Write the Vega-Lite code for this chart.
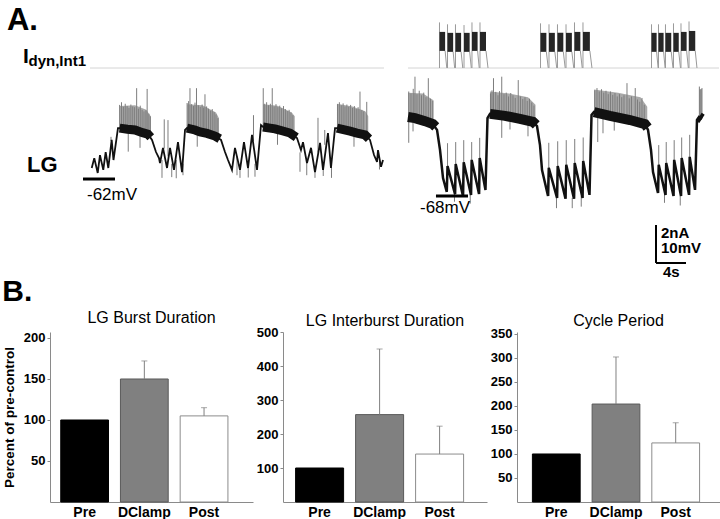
{
  "$schema": "https://vega.github.io/schema/vega-lite/v6.json",
  "background": "white",
  "padding": {"left": 2, "top": 5, "right": 0, "bottom": 0},
  "config": {"view": {"stroke": null}, "font": "Liberation Sans", "axis": {"labelOverlap": false, "labelBound": false}},
  "datasets": {
    "lgL": [
      {"t":0.23,"v":-59.1},{"t":0.57,"v":-56.5},{"t":1.03,"v":-60.4},{"t":1.33,"v":-55.7},{"t":1.77,"v":-59.6},{"t":2.09,"v":-54.9},{"t":2.44,"v":-59.1},{"t":2.89,"v":-51.7},{"t":3.13,"v":-57.0},{"t":3.73,"v":-48.6},
      {"t":4.0,"v":-48.6},{"t":4.6,"v":-49.3},{"t":5.3,"v":-48.8},{"t":6.0,"v":-49.1},{"t":6.8,"v":-49.9},{"t":7.73,"v":-50.2},{"t":8.27,"v":-51.7},{"t":8.8,"v":-54.9},{"t":9.2,"v":-56.5},
      {"t":9.33,"v":-57.8},{"t":9.73,"v":-53.8},{"t":10.27,"v":-59.1},{"t":10.67,"v":-53.8},{"t":11.2,"v":-59.6},{"t":11.73,"v":-52.3},{"t":12.27,"v":-60.2},{"t":12.67,"v":-49.1},
      {"t":12.93,"v":-48.6},{"t":13.8,"v":-49.0},{"t":14.67,"v":-49.6},{"t":15.6,"v":-50.0},{"t":16.67,"v":-50.7},{"t":17.47,"v":-51.7},{"t":18.0,"v":-54.9},{"t":18.4,"v":-57.0},
      {"t":18.93,"v":-59.6},{"t":19.33,"v":-53.8},{"t":20.0,"v":-59.6},{"t":20.53,"v":-52.3},{"t":21.07,"v":-59.1},{"t":21.6,"v":-50.4},{"t":22.27,"v":-59.6},{"t":22.8,"v":-47.8},
      {"t":23.07,"v":-48.3},{"t":23.9,"v":-48.6},{"t":24.67,"v":-48.8},{"t":25.6,"v":-49.3},{"t":26.67,"v":-49.9},{"t":27.6,"v":-51.2},{"t":28.13,"v":-54.4},
      {"t":28.4,"v":-52.3},{"t":28.93,"v":-57.8},{"t":29.47,"v":-53.8},{"t":30.0,"v":-60.2},{"t":30.67,"v":-52.5},{"t":31.07,"v":-59.6},{"t":31.73,"v":-49.9},{"t":32.13,"v":-59.1},{"t":32.67,"v":-48.6},
      {"t":32.93,"v":-48.6},{"t":33.8,"v":-49.0},{"t":34.67,"v":-49.4},{"t":35.6,"v":-49.9},{"t":36.67,"v":-50.4},{"t":37.33,"v":-51.7},{"t":37.87,"v":-55.7},{"t":38.27,"v":-57.5},{"t":38.4,"v":-54.4},{"t":38.8,"v":-58.8},{"t":39.07,"v":-57.0}
    ],
    "bandL": [
      {"b":1,"t":3.95,"v":-48.6},{"b":1,"t":5.0,"v":-48.9},{"b":1,"t":6.0,"v":-49.1},{"b":1,"t":7.0,"v":-49.8},{"b":1,"t":7.73,"v":-50.2},{"b":1,"t":8.1,"v":-51.0},
      {"b":2,"t":12.93,"v":-48.6},{"b":2,"t":14.0,"v":-49.1},{"b":2,"t":14.67,"v":-49.6},{"b":2,"t":15.6,"v":-50.0},{"b":2,"t":16.67,"v":-50.7},{"b":2,"t":17.3,"v":-51.4},
      {"b":3,"t":23.07,"v":-48.3},{"b":3,"t":24.0,"v":-48.6},{"b":3,"t":24.67,"v":-48.8},{"b":3,"t":25.6,"v":-49.3},{"b":3,"t":26.67,"v":-49.9},{"b":3,"t":27.5,"v":-51.0},
      {"b":4,"t":32.93,"v":-48.6},{"b":4,"t":33.8,"v":-49.0},{"b":4,"t":34.67,"v":-49.4},{"b":4,"t":35.6,"v":-49.9},{"b":4,"t":36.67,"v":-50.4},{"b":4,"t":37.2,"v":-51.4}
    ],
    "hazeL": [
      {"b":1,"t":3.95,"lo":-48.6,"hi":-42.8},{"b":1,"t":6.0,"lo":-49.1,"hi":-42.6},{"b":1,"t":7.5,"lo":-50.0,"hi":-43.8},{"b":1,"t":8.1,"lo":-51.0,"hi":-45.5},
      {"b":2,"t":12.95,"lo":-48.6,"hi":-42.3},{"b":2,"t":15.0,"lo":-50.0,"hi":-42.6},{"b":2,"t":16.8,"lo":-50.7,"hi":-44.5},{"b":2,"t":17.2,"lo":-51.3,"hi":-46.0},
      {"b":3,"t":23.07,"lo":-48.3,"hi":-42.3},{"b":3,"t":25.0,"lo":-49.1,"hi":-42.7},{"b":3,"t":26.9,"lo":-50.0,"hi":-44.5},{"b":3,"t":27.3,"lo":-50.8,"hi":-45.5},
      {"b":4,"t":32.93,"lo":-48.6,"hi":-42.2},{"b":4,"t":35.0,"lo":-49.7,"hi":-42.9},{"b":4,"t":36.7,"lo":-50.4,"hi":-44.2},{"b":4,"t":37.1,"lo":-51.2,"hi":-45.5}
    ],
    "spkL": [
      {"t":3.95,"a":-49,"b":-42.5},{"t":4.2,"a":-49,"b":-41.8},{"t":4.45,"a":-49,"b":-43},{"t":4.7,"a":-49,"b":-42.2},{"t":4.95,"a":-49,"b":-42.8},{"t":5.2,"a":-49,"b":-43.3},{"t":5.45,"a":-49,"b":-42.4},{"t":5.7,"a":-49,"b":-42.9},{"t":5.95,"a":-49,"b":-43.1},{"t":6.22,"a":-49,"b":-38.1},{"t":6.45,"a":-49,"b":-43.5},{"t":6.7,"a":-49,"b":-42.7},{"t":6.95,"a":-49,"b":-43.8},{"t":7.2,"a":-50,"b":-44.2},{"t":7.45,"a":-50,"b":-43.9},{"t":7.62,"a":-50,"b":-38.3},{"t":7.85,"a":-50,"b":-44.8},{"t":8.05,"a":-50,"b":-45.5},
      {"t":12.95,"a":-49.5,"b":-42},{"t":13.15,"a":-49.5,"b":-41.5},{"t":13.33,"a":-49.5,"b":-38.1},{"t":13.55,"a":-49.5,"b":-42.3},{"t":13.8,"a":-49.5,"b":-42.8},{"t":14.0,"a":-49.5,"b":-41.9},{"t":14.2,"a":-49.5,"b":-38.1},{"t":14.45,"a":-49.5,"b":-42.6},{"t":14.7,"a":-49.5,"b":-43},{"t":14.95,"a":-49.5,"b":-42.4},{"t":15.15,"a":-50,"b":-43.2},{"t":15.33,"a":-50,"b":-39.7},{"t":15.55,"a":-50,"b":-42.9},{"t":15.8,"a":-50,"b":-43.5},{"t":16.05,"a":-50,"b":-44},{"t":16.3,"a":-50.5,"b":-43.6},{"t":16.55,"a":-50.5,"b":-44.4},{"t":16.8,"a":-50.5,"b":-45},{"t":17.05,"a":-51,"b":-46},
      {"t":23.1,"a":-48.5,"b":-38.1},{"t":23.3,"a":-48.5,"b":-42.2},{"t":23.55,"a":-48.5,"b":-41.8},{"t":23.8,"a":-48.5,"b":-42.6},{"t":24.05,"a":-48.5,"b":-42.2},{"t":24.3,"a":-48.5,"b":-38.1},{"t":24.55,"a":-49,"b":-42.9},{"t":24.8,"a":-49,"b":-42.3},{"t":25.05,"a":-49,"b":-43.1},{"t":25.3,"a":-49,"b":-42.7},{"t":25.55,"a":-49,"b":-43.4},{"t":25.8,"a":-49.5,"b":-42.8},{"t":26.05,"a":-49.5,"b":-43.6},{"t":26.3,"a":-49.5,"b":-44.1},{"t":26.55,"a":-50,"b":-43.8},{"t":26.8,"a":-50,"b":-44.5},{"t":27.05,"a":-50,"b":-45.2},
      {"t":33.0,"a":-48.8,"b":-42.3},{"t":33.25,"a":-48.8,"b":-41.8},{"t":33.5,"a":-48.8,"b":-42.6},{"t":33.75,"a":-49,"b":-42.1},{"t":34.0,"a":-49,"b":-42.9},{"t":34.25,"a":-49,"b":-42.4},{"t":34.5,"a":-49.4,"b":-43.0},{"t":34.75,"a":-49.4,"b":-42.5},{"t":35.0,"a":-49.6,"b":-43.3},{"t":35.25,"a":-49.6,"b":-42.8},{"t":35.5,"a":-49.8,"b":-43.6},{"t":35.75,"a":-50,"b":-43.1},{"t":36.0,"a":-50,"b":-39.0},{"t":36.25,"a":-50.2,"b":-43.8},{"t":36.5,"a":-50.4,"b":-44.2},{"t":36.9,"a":-50.8,"b":-41.7},
      {"t":2.8,"a":-52,"b":-50.9},{"t":5.1,"a":-49,"b":-54.8},{"t":6.67,"a":-49.5,"b":-53.8},{"t":9.6,"a":-57,"b":-61.7},{"t":9.9,"a":-54,"b":-46.3},{"t":10.4,"a":-56,"b":-46.5},{"t":10.9,"a":-58,"b":-61.5},{"t":11.5,"a":-57,"b":-61.8},{"t":12.4,"a":-58,"b":-61.0},
      {"t":14.3,"a":-49.5,"b":-53.5},{"t":19.6,"a":-56,"b":-61.0},{"t":20.0,"a":-58,"b":-61.7},{"t":21.1,"a":-58,"b":-61.6},{"t":21.8,"a":-52,"b":-45.2},{"t":22.0,"a":-58,"b":-61.4},
      {"t":25.0,"a":-49,"b":-53.0},{"t":28.0,"a":-55,"b":-60.1},{"t":28.9,"a":-57,"b":-61.0},{"t":30.0,"a":-59,"b":-61.7},{"t":30.4,"a":-55,"b":-45.9},{"t":31.1,"a":-58,"b":-61.2},{"t":31.3,"a":-53,"b":-49.1},{"t":32.2,"a":-58,"b":-61.7},{"t":35.2,"a":-49.6,"b":-53.5},{"t":38.6,"a":-56,"b":-59.5}
    ],
    "lgR": [
      {"t":0,"v":-47.2},{"t":0.93,"v":-47.5},{"t":2.27,"v":-48.3},{"t":3.33,"v":-49.1},{"t":3.87,"v":-50.6},{"t":4.27,"v":-55.9},{"t":4.67,"v":-63.3},{"t":5.17,"v":-66.9},
      {"t":5.27,"v":-60.1},{"t":6.27,"v":-67.5},{"t":6.36,"v":-59.6},{"t":7.33,"v":-68.0},{"t":7.43,"v":-59.1},{"t":8.4,"v":-67.7},{"t":8.49,"v":-58.5},{"t":9.47,"v":-67.5},{"t":9.56,"v":-58.0},{"t":10.33,"v":-66.4},{"t":10.6,"v":-47.5},
      {"t":10.93,"v":-46.4},{"t":12.93,"v":-46.9},{"t":14.93,"v":-47.7},{"t":16.67,"v":-48.5},{"t":17.2,"v":-49.6},{"t":17.6,"v":-54.6},{"t":17.87,"v":-61.2},
      {"t":18.67,"v":-68.0},{"t":18.77,"v":-60.6},{"t":19.87,"v":-68.5},{"t":19.96,"v":-60.1},{"t":21.0,"v":-68.7},{"t":21.1,"v":-59.8},{"t":22.13,"v":-68.7},{"t":22.23,"v":-59.3},{"t":23.27,"v":-68.5},{"t":23.36,"v":-58.8},{"t":24.2,"v":-67.7},{"t":24.47,"v":-46.7},
      {"t":24.8,"v":-45.9},{"t":26.93,"v":-46.9},{"t":29.6,"v":-48.0},{"t":31.6,"v":-49.1},{"t":32.0,"v":-50.6},{"t":32.4,"v":-55.9},{"t":32.67,"v":-61.7},
      {"t":33.33,"v":-67.2},{"t":33.43,"v":-59.8},{"t":34.33,"v":-67.7},{"t":34.43,"v":-59.3},{"t":35.4,"v":-68.0},{"t":35.49,"v":-58.5},{"t":36.4,"v":-68.0},{"t":36.49,"v":-58.0},{"t":37.47,"v":-67.7},{"t":37.56,"v":-57.7},{"t":38.27,"v":-66.4},{"t":38.53,"v":-48.0},
      {"t":38.8,"v":-47.2},{"t":39.2,"v":-47.7}
    ],
    "bandR": [
      {"b":0,"t":0,"v":-47.2},{"b":0,"t":0.93,"v":-47.5},{"b":0,"t":2.27,"v":-48.3},{"b":0,"t":3.33,"v":-49.1},{"b":0,"t":3.7,"v":-49.8},
      {"b":1,"t":10.93,"v":-46.4},{"b":1,"t":12.93,"v":-46.9},{"b":1,"t":14.93,"v":-47.7},{"b":1,"t":16.67,"v":-48.5},{"b":1,"t":17.1,"v":-49.3},
      {"b":2,"t":24.8,"v":-45.9},{"b":2,"t":26.93,"v":-46.9},{"b":2,"t":29.6,"v":-48.0},{"b":2,"t":31.6,"v":-49.1},{"b":2,"t":31.95,"v":-50.0},
      {"b":3,"t":38.8,"v":-47.2},{"b":3,"t":39.2,"v":-47.7}
    ],
    "hazeR": [
      {"b":0,"t":0,"lo":-47.2,"hi":-40.8},{"b":0,"t":2.0,"lo":-48.2,"hi":-41.0},{"b":0,"t":3.4,"lo":-49.1,"hi":-42.8},
      {"b":1,"t":10.93,"lo":-46.4,"hi":-40.5},{"b":1,"t":13.5,"lo":-47.2,"hi":-41.0},{"b":1,"t":16.0,"lo":-48.3,"hi":-42.0},{"b":1,"t":17.0,"lo":-49.2,"hi":-44.0},
      {"b":2,"t":24.8,"lo":-45.9,"hi":-40.0},{"b":2,"t":28.0,"lo":-47.3,"hi":-40.8},{"b":2,"t":31.0,"lo":-48.8,"hi":-42.0},{"b":2,"t":31.9,"lo":-49.9,"hi":-44.5},
      {"b":3,"t":38.8,"lo":-47.2,"hi":-40.0},{"b":3,"t":39.2,"lo":-47.7,"hi":-39.8}
    ],
    "spkR": [
      {"t":0.1,"a":-48,"b":-40.5},{"t":0.4,"a":-48,"b":-41},{"t":0.7,"a":-48,"b":-39.8},{"t":0.93,"a":-48,"b":-36.6},{"t":1.2,"a":-48,"b":-41.2},{"t":1.5,"a":-48,"b":-40.3},{"t":1.8,"a":-48.5,"b":-41.5},{"t":2.1,"a":-48.5,"b":-40.8},{"t":2.4,"a":-48.5,"b":-42},{"t":2.71,"a":-49,"b":-37.0},{"t":3.0,"a":-49,"b":-42.4},{"t":3.3,"a":-49,"b":-43},
      {"t":0.1,"a":-48,"b":-54},{"t":0.67,"a":-48,"b":-51},
      {"t":11.0,"a":-47,"b":-41},{"t":11.2,"a":-47,"b":-40.2},{"t":11.4,"a":-47,"b":-37.0},{"t":11.7,"a":-47,"b":-40.6},{"t":12.0,"a":-47,"b":-41.5},{"t":12.2,"a":-47,"b":-40.4},{"t":12.5,"a":-47,"b":-36.6},{"t":12.8,"a":-47,"b":-41.2},{"t":13.1,"a":-47.5,"b":-40.8},{"t":13.4,"a":-47.5,"b":-41.8},{"t":13.7,"a":-47.5,"b":-40.9},{"t":14.0,"a":-47.5,"b":-41.5},{"t":14.3,"a":-47.5,"b":-42.2},{"t":14.7,"a":-48,"b":-37.5},{"t":15.0,"a":-48,"b":-41.8},{"t":15.3,"a":-48,"b":-42.5},{"t":15.6,"a":-48,"b":-42.0},{"t":15.9,"a":-48.5,"b":-43.0},{"t":16.2,"a":-48.5,"b":-42.4},{"t":16.5,"a":-48.5,"b":-43.4},{"t":16.8,"a":-49,"b":-44.2},
      {"t":12.5,"a":-47,"b":-52.7},{"t":16.0,"a":-48,"b":-52.3},{"t":13.6,"a":-47,"b":-50.5},
      {"t":24.9,"a":-46.5,"b":-40.2},{"t":25.2,"a":-46.5,"b":-39.6},{"t":25.5,"a":-46.5,"b":-40.5},{"t":25.8,"a":-46.5,"b":-39.9},{"t":26.1,"a":-46.5,"b":-40.8},{"t":26.4,"a":-47,"b":-40.3},{"t":26.7,"a":-47,"b":-41.2},{"t":27.0,"a":-47,"b":-40.5},{"t":27.3,"a":-47,"b":-41.4},{"t":27.6,"a":-47.5,"b":-40.9},{"t":27.9,"a":-47.5,"b":-41.8},{"t":28.2,"a":-47.5,"b":-41.2},{"t":28.5,"a":-47.5,"b":-42.0},{"t":28.8,"a":-48,"b":-41.5},{"t":29.2,"a":-48,"b":-38.3},{"t":29.5,"a":-48,"b":-42.3},{"t":29.8,"a":-48,"b":-41.8},{"t":30.3,"a":-48.5,"b":-39.6},{"t":30.6,"a":-48.5,"b":-42.6},{"t":30.9,"a":-48.5,"b":-43.2},{"t":31.2,"a":-49,"b":-42.2},{"t":31.5,"a":-49,"b":-44.0},
      {"t":25.3,"a":-47,"b":-53.8},{"t":26.0,"a":-47,"b":-51.5},{"t":27.5,"a":-48,"b":-50.8},
      {"t":38.85,"a":-47.5,"b":-39.2},{"t":39.05,"a":-47.5,"b":-40.0},{"t":39.2,"a":-47.5,"b":-39.6},
      {"t":5.27,"a":-66.9,"b":-54.1},{"t":6.36,"a":-67.5,"b":-53.8},{"t":7.43,"a":-68,"b":-53.3},{"t":8.49,"a":-67.7,"b":-53.8},{"t":9.56,"a":-67.5,"b":-52.7},
      {"t":18.77,"a":-68,"b":-54.0},{"t":19.96,"a":-68.5,"b":-53.6},{"t":21.1,"a":-68.7,"b":-53.3},{"t":22.23,"a":-68.7,"b":-53.0},{"t":23.36,"a":-68.5,"b":-52.6},
      {"t":33.43,"a":-67.2,"b":-54.6},{"t":34.43,"a":-67.7,"b":-53.8},{"t":35.49,"a":-68,"b":-53.3},{"t":36.49,"a":-68,"b":-52.6},{"t":37.56,"a":-67.7,"b":-51.9},
      {"t":6.2,"a":-67,"b":-69.5},{"t":8.3,"a":-67.5,"b":-70},{"t":19.8,"a":-68,"b":-71.2},{"t":21.9,"a":-68.5,"b":-71.2},{"t":23.1,"a":-68,"b":-70.8},{"t":34.2,"a":-67.5,"b":-69.8},{"t":36.3,"a":-68,"b":-70.5}
    ],
    "pulses": [
      {"t0":4.2,"t1":4.95,"te":5.17,"z":0,"pk":2.4,"hi":1.9,"lo":0.9},{"t0":5.27,"t1":6.02,"te":6.22,"z":0,"pk":2.3,"hi":1.85,"lo":0.85},{"t0":6.33,"t1":7.08,"te":7.3,"z":0,"pk":2.3,"hi":1.85,"lo":0.85},{"t0":7.47,"t1":8.22,"te":8.44,"z":0,"pk":2.26,"hi":1.85,"lo":0.85},{"t0":8.53,"t1":9.28,"te":9.5,"z":0,"pk":2.4,"hi":1.9,"lo":0.9},{"t0":9.6,"t1":10.4,"te":10.67,"z":0,"pk":2.4,"hi":1.9,"lo":0.9},
      {"t0":17.67,"t1":18.45,"te":18.7,"z":0,"pk":2.35,"hi":1.85,"lo":0.85},{"t0":18.8,"t1":19.58,"te":19.83,"z":0,"pk":2.3,"hi":1.85,"lo":0.85},{"t0":19.93,"t1":20.71,"te":20.96,"z":0,"pk":2.3,"hi":1.85,"lo":0.85},{"t0":21.07,"t1":21.85,"te":22.1,"z":0,"pk":2.3,"hi":1.85,"lo":0.85},{"t0":22.2,"t1":22.98,"te":23.23,"z":0,"pk":2.4,"hi":1.9,"lo":0.9},{"t0":23.33,"t1":24.25,"te":24.53,"z":0,"pk":2.4,"hi":1.9,"lo":0.9},
      {"t0":32.47,"t1":33.15,"te":33.35,"z":0,"pk":2.3,"hi":1.85,"lo":0.85},{"t0":33.4,"t1":34.08,"te":34.28,"z":0,"pk":2.3,"hi":1.85,"lo":0.85},{"t0":34.33,"t1":35.1,"te":35.33,"z":0,"pk":2.3,"hi":1.85,"lo":0.85},{"t0":35.4,"t1":36.1,"te":36.33,"z":0,"pk":2.35,"hi":1.85,"lo":0.85},{"t0":36.4,"t1":37.15,"te":37.38,"z":0,"pk":2.35,"hi":1.9,"lo":0.9},{"t0":37.47,"t1":38.3,"te":38.53,"z":0,"pk":2.45,"hi":1.95,"lo":0.9}
    ],
    "bars": [
      {"m":"burst","c":"Pre","v":100,"hi":null},{"m":"burst","c":"DClamp","v":150,"hi":172},{"m":"burst","c":"Post","v":105,"hi":115},
      {"m":"inter","c":"Pre","v":100,"hi":null},{"m":"inter","c":"DClamp","v":257,"hi":450},{"m":"inter","c":"Post","v":141,"hi":223},
      {"m":"cycle","c":"Pre","v":100,"hi":null},{"m":"cycle","c":"DClamp","v":204,"hi":302},{"m":"cycle","c":"Post","v":123,"hi":165}
    ]
  },
  "bounds": "flush",
  "spacing": 117,
  "vconcat": [
    {
      "width": 670,
      "height": 210,
      "resolve": {"scale": {"x": "independent", "y": "independent"}},
      "layer": [
        {
          "data": {"values": [{"t": 0, "a": 0}, {"t": 39.2, "a": 0}]},
          "mark": {"type": "line", "color": "#d4d4d4", "strokeWidth": 1},
          "encoding": {
            "x": {"field": "t", "type": "quantitative", "scale": {"domain": [-5.333, 84.0], "nice": false, "zero": false}, "axis": null},
            "y": {"field": "a", "type": "quantitative", "scale": {"domain": [-7.737, 3.316], "nice": false, "zero": false}, "axis": null}
          }
        },
        {
          "data": {"values": [{"t": -8.93, "a": 0.263, "s": "I"}]},
          "mark": {"type": "text", "fontSize": 21, "fontWeight": "bold", "align": "left", "baseline": "alphabetic", "color": "black"},
          "encoding": {
            "x": {"field": "t", "type": "quantitative", "scale": {"domain": [-5.333, 84.0], "nice": false, "zero": false}, "axis": null},
            "y": {"field": "a", "type": "quantitative", "scale": {"domain": [-7.737, 3.316], "nice": false, "zero": false}, "axis": null},
            "text": {"field": "s"}
          }
        },
        {
          "data": {"values": [{"t": -8.2, "a": 0.105, "s": "dyn,Int1"}]},
          "mark": {"type": "text", "fontSize": 15, "fontWeight": "bold", "align": "left", "baseline": "alphabetic", "color": "black"},
          "encoding": {
            "x": {"field": "t", "type": "quantitative", "scale": {"domain": [-5.333, 84.0], "nice": false, "zero": false}, "axis": null},
            "y": {"field": "a", "type": "quantitative", "scale": {"domain": [-7.737, 3.316], "nice": false, "zero": false}, "axis": null},
            "text": {"field": "s"}
          }
        },
        {
          "data": {"name": "hazeL"},
          "mark": {"type": "area", "color": "#a9a9a9"},
          "encoding": {
            "x": {"field": "t", "type": "quantitative", "scale": {"domain": [-5.333, 84.0], "nice": false, "zero": false}, "axis": null},
            "y": {"field": "lo", "type": "quantitative", "scale": {"domain": [-71.47, -16.21], "nice": false, "zero": false}, "axis": null},
            "y2": {"field": "hi"},
            "detail": {"field": "b", "type": "nominal"}
          }
        },
        {
          "data": {"name": "spkL"},
          "mark": {"type": "rule", "color": "#7d7d7d", "strokeWidth": 1},
          "encoding": {
            "x": {"field": "t", "type": "quantitative", "scale": {"domain": [-5.333, 84.0], "nice": false, "zero": false}, "axis": null},
            "y": {"field": "a", "type": "quantitative", "scale": {"domain": [-71.47, -16.21], "nice": false, "zero": false}, "axis": null},
            "y2": {"field": "b"}
          }
        },
        {
          "data": {"name": "lgL"},
          "mark": {"type": "line", "color": "#111111", "strokeWidth": 1.8},
          "encoding": {
            "x": {"field": "t", "type": "quantitative", "scale": {"domain": [-5.333, 84.0], "nice": false, "zero": false}, "axis": null},
            "y": {"field": "v", "type": "quantitative", "scale": {"domain": [-71.47, -16.21], "nice": false, "zero": false}, "axis": null}
          }
        },
        {
          "data": {"name": "bandL"},
          "mark": {"type": "line", "color": "#111111", "strokeWidth": 9},
          "encoding": {
            "x": {"field": "t", "type": "quantitative", "scale": {"domain": [-5.333, 84.0], "nice": false, "zero": false}, "axis": null},
            "y": {"field": "v", "type": "quantitative", "scale": {"domain": [-71.47, -16.21], "nice": false, "zero": false}, "axis": null},
            "detail": {"field": "b", "type": "nominal"}
          }
        },
        {
          "data": {"values": [{"t": -0.93, "t2": 3.33, "v": -62}]},
          "mark": {"type": "rule", "color": "black", "strokeWidth": 3},
          "encoding": {
            "x": {"field": "t", "type": "quantitative", "scale": {"domain": [-5.333, 84.0], "nice": false, "zero": false}, "axis": null},
            "x2": {"field": "t2"},
            "y": {"field": "v", "type": "quantitative", "scale": {"domain": [-71.47, -16.21], "nice": false, "zero": false}, "axis": null}
          }
        },
        {
          "data": {"values": [{"t": -0.4, "v": -67.52, "s": "-62mV"}]},
          "mark": {"type": "text", "fontSize": 17, "align": "left", "baseline": "alphabetic", "color": "black"},
          "encoding": {
            "x": {"field": "t", "type": "quantitative", "scale": {"domain": [-5.333, 84.0], "nice": false, "zero": false}, "axis": null},
            "y": {"field": "v", "type": "quantitative", "scale": {"domain": [-71.47, -16.21], "nice": false, "zero": false}, "axis": null},
            "text": {"field": "s"}
          }
        },
        {
          "data": {"values": [{"t": -8.4, "v": -60.15, "s": "LG"}]},
          "mark": {"type": "text", "fontSize": 22, "fontWeight": "bold", "align": "left", "baseline": "alphabetic", "color": "black"},
          "encoding": {
            "x": {"field": "t", "type": "quantitative", "scale": {"domain": [-5.333, 84.0], "nice": false, "zero": false}, "axis": null},
            "y": {"field": "v", "type": "quantitative", "scale": {"domain": [-71.47, -16.21], "nice": false, "zero": false}, "axis": null},
            "text": {"field": "s"}
          }
        },
        {
          "data": {"values": [{"t": -11.07, "v": -22.79, "s": "A."}]},
          "mark": {"type": "text", "fontSize": 31, "fontWeight": "bold", "align": "left", "baseline": "alphabetic", "color": "black"},
          "encoding": {
            "x": {"field": "t", "type": "quantitative", "scale": {"domain": [-5.333, 84.0], "nice": false, "zero": false}, "axis": null},
            "y": {"field": "v", "type": "quantitative", "scale": {"domain": [-71.47, -16.21], "nice": false, "zero": false}, "axis": null},
            "text": {"field": "s"}
          }
        },
        {
          "data": {"values": [{"t": 0, "a": 0}, {"t": 41.467, "a": 0}]},
          "mark": {"type": "line", "color": "#d4d4d4", "strokeWidth": 1},
          "encoding": {
            "x": {"field": "t", "type": "quantitative", "scale": {"domain": [-47.733, 41.6], "nice": false, "zero": false}, "axis": null},
            "y": {"field": "a", "type": "quantitative", "scale": {"domain": [-7.737, 3.316], "nice": false, "zero": false}, "axis": null}
          }
        },
        {
          "data": {"name": "pulses"},
          "mark": {"type": "rule", "color": "#9a9a9a", "strokeWidth": 1},
          "encoding": {
            "x": {"field": "t0", "type": "quantitative", "scale": {"domain": [-47.733, 41.6], "nice": false, "zero": false}, "axis": null},
            "y": {"field": "z", "type": "quantitative", "scale": {"domain": [-7.737, 3.316], "nice": false, "zero": false}, "axis": null},
            "y2": {"field": "pk"}
          }
        },
        {
          "data": {"name": "pulses"},
          "mark": {"type": "rule", "color": "#9a9a9a", "strokeWidth": 1},
          "encoding": {
            "x": {"field": "t1", "type": "quantitative", "scale": {"domain": [-47.733, 41.6], "nice": false, "zero": false}, "axis": null},
            "x2": {"field": "te"},
            "y": {"field": "lo", "type": "quantitative", "scale": {"domain": [-7.737, 3.316], "nice": false, "zero": false}, "axis": null},
            "y2": {"field": "z"}
          }
        },
        {
          "data": {"name": "pulses"},
          "mark": {"type": "rect", "color": "#262626"},
          "encoding": {
            "x": {"field": "t0", "type": "quantitative", "scale": {"domain": [-47.733, 41.6], "nice": false, "zero": false}, "axis": null},
            "x2": {"field": "t1"},
            "y": {"field": "lo", "type": "quantitative", "scale": {"domain": [-7.737, 3.316], "nice": false, "zero": false}, "axis": null},
            "y2": {"field": "hi"}
          }
        },
        {
          "data": {"name": "hazeR"},
          "mark": {"type": "area", "color": "#a9a9a9"},
          "encoding": {
            "x": {"field": "t", "type": "quantitative", "scale": {"domain": [-47.733, 41.6], "nice": false, "zero": false}, "axis": null},
            "y": {"field": "lo", "type": "quantitative", "scale": {"domain": [-73.0, -17.74], "nice": false, "zero": false}, "axis": null},
            "y2": {"field": "hi"},
            "detail": {"field": "b", "type": "nominal"}
          }
        },
        {
          "data": {"name": "spkR"},
          "mark": {"type": "rule", "color": "#7d7d7d", "strokeWidth": 1},
          "encoding": {
            "x": {"field": "t", "type": "quantitative", "scale": {"domain": [-47.733, 41.6], "nice": false, "zero": false}, "axis": null},
            "y": {"field": "a", "type": "quantitative", "scale": {"domain": [-73.0, -17.74], "nice": false, "zero": false}, "axis": null},
            "y2": {"field": "b"}
          }
        },
        {
          "data": {"name": "lgR"},
          "mark": {"type": "line", "color": "#111111", "strokeWidth": 2.5},
          "encoding": {
            "x": {"field": "t", "type": "quantitative", "scale": {"domain": [-47.733, 41.6], "nice": false, "zero": false}, "axis": null},
            "y": {"field": "v", "type": "quantitative", "scale": {"domain": [-73.0, -17.74], "nice": false, "zero": false}, "axis": null}
          }
        },
        {
          "data": {"name": "bandR"},
          "mark": {"type": "line", "color": "#111111", "strokeWidth": 10},
          "encoding": {
            "x": {"field": "t", "type": "quantitative", "scale": {"domain": [-47.733, 41.6], "nice": false, "zero": false}, "axis": null},
            "y": {"field": "v", "type": "quantitative", "scale": {"domain": [-73.0, -17.74], "nice": false, "zero": false}, "axis": null},
            "detail": {"field": "b", "type": "nominal"}
          }
        },
        {
          "data": {"values": [{"t": 3.73, "t2": 8.0, "v": -68}]},
          "mark": {"type": "rule", "color": "black", "strokeWidth": 3},
          "encoding": {
            "x": {"field": "t", "type": "quantitative", "scale": {"domain": [-47.733, 41.6], "nice": false, "zero": false}, "axis": null},
            "x2": {"field": "t2"},
            "y": {"field": "v", "type": "quantitative", "scale": {"domain": [-73.0, -17.74], "nice": false, "zero": false}, "axis": null}
          }
        },
        {
          "data": {"values": [{"t": 33.07, "t2": 33.07, "v": -85.63, "v2": -75.63}, {"t": 33.07, "t2": 37.07, "v": -85.63, "v2": -85.63}]},
          "mark": {"type": "rule", "color": "black", "strokeWidth": 2},
          "encoding": {
            "x": {"field": "t", "type": "quantitative", "scale": {"domain": [-47.733, 41.6], "nice": false, "zero": false}, "axis": null},
            "x2": {"field": "t2"},
            "y": {"field": "v", "type": "quantitative", "scale": {"domain": [-73.0, -17.74], "nice": false, "zero": false}, "axis": null},
            "y2": {"field": "v2"}
          }
        },
        {
          "data": {"values": [{"t": 1.6, "v": -72.47, "s": "-68mV"}]},
          "mark": {"type": "text", "fontSize": 17, "align": "left", "baseline": "alphabetic", "color": "black"},
          "encoding": {
            "x": {"field": "t", "type": "quantitative", "scale": {"domain": [-47.733, 41.6], "nice": false, "zero": false}, "axis": null},
            "y": {"field": "v", "type": "quantitative", "scale": {"domain": [-73.0, -17.74], "nice": false, "zero": false}, "axis": null},
            "text": {"field": "s"}
          }
        },
        {
          "data": {"values": [{"t": 33.73, "v": -79.05, "s": "2nA"}, {"t": 33.73, "v": -83.1, "s": "10mV"}, {"t": 34.0, "v": -89.3, "s": "4s"}]},
          "mark": {"type": "text", "fontSize": 15, "fontWeight": "bold", "align": "left", "baseline": "alphabetic", "color": "black"},
          "encoding": {
            "x": {"field": "t", "type": "quantitative", "scale": {"domain": [-47.733, 41.6], "nice": false, "zero": false}, "axis": null},
            "y": {"field": "v", "type": "quantitative", "scale": {"domain": [-73.0, -17.74], "nice": false, "zero": false}, "axis": null},
            "text": {"field": "s"}
          }
        }
      ]
    },
    {
      "bounds": "flush",
      "spacing": 30,
      "title": {"text": "B.", "anchor": "start", "frame": "bounds", "fontSize": 30, "fontWeight": "bold", "color": "black", "offset": 3},
      "hconcat": [
        {
          "width": 203,
          "height": 170,
          "title": {"text": "LG Burst Duration", "fontSize": 16, "fontWeight": "normal", "color": "black", "offset": 6},
          "data": {"name": "bars"},
          "transform": [{"filter": "datum.m == 'burst'"}],
          "encoding": {
            "x": {"field": "c", "type": "nominal", "sort": ["Pre", "DClamp", "Post"], "scale": {"paddingInner": 0.2, "paddingOuter": 0.3, "align": 0.3},
              "axis": {"title": null, "labelAngle": 0, "labelFontSize": 14, "labelFontWeight": "bold", "labelColor": "black", "ticks": false, "labelPadding": 3, "domainColor": "#8a8a8a"}}
          },
          "layer": [
            {
              "mark": {"type": "bar", "strokeWidth": 1},
              "encoding": {
                "y": {"field": "v", "type": "quantitative", "scale": {"domain": [0, 207.3], "nice": false},
                  "axis": {"values": [50, 100, 150, 200], "tickCount": 10, "title": "Percent of pre-control", "titleFontSize": 13.5, "titleFontWeight": "bold", "titleColor": "black", "titlePadding": 7, "labelFontSize": 13, "labelFontWeight": "bold", "labelColor": "black", "ticks": true, "tickSize": 3, "tickColor": "#8a8a8a", "labelPadding": 2, "domainColor": "#8a8a8a", "grid": false}},
                "fill": {"field": "c", "type": "nominal", "scale": {"domain": ["Pre", "DClamp", "Post"], "range": ["#000000", "#808080", "#ffffff"]}, "legend": null},
                "stroke": {"field": "c", "type": "nominal", "scale": {"domain": ["Pre", "DClamp", "Post"], "range": ["#000000", "#5a5a5a", "#8c8c8c"]}, "legend": null}
              }
            },
            {
              "mark": {"type": "rule", "color": "#808080", "strokeWidth": 1},
              "encoding": {"y": {"field": "v", "type": "quantitative"}, "y2": {"field": "hi"}}
            },
            {
              "mark": {"type": "tick", "color": "#808080", "size": 6, "thickness": 1},
              "encoding": {"y": {"field": "hi", "type": "quantitative"}}
            }
          ]
        },
        {
          "width": 204,
          "height": 170,
          "title": {"text": "LG Interburst Duration", "fontSize": 16, "fontWeight": "normal", "color": "black", "offset": -3},
          "data": {"name": "bars"},
          "transform": [{"filter": "datum.m == 'inter'"}],
          "encoding": {
            "x": {"field": "c", "type": "nominal", "sort": ["Pre", "DClamp", "Post"], "scale": {"paddingInner": 0.2, "paddingOuter": 0.3, "align": 0.35},
              "axis": {"title": null, "labelAngle": 0, "labelFontSize": 14, "labelFontWeight": "bold", "labelColor": "black", "ticks": false, "labelPadding": 3, "domainColor": "#8a8a8a"}}
          },
          "layer": [
            {
              "mark": {"type": "bar", "strokeWidth": 1},
              "encoding": {
                "y": {"field": "v", "type": "quantitative", "scale": {"domain": [0, 500], "nice": false},
                  "axis": {"values": [100, 200, 300, 400, 500], "tickCount": 10, "title": null, "labelFontSize": 13, "labelFontWeight": "bold", "labelColor": "black", "ticks": true, "tickSize": 3, "tickColor": "#8a8a8a", "labelPadding": 2, "domainColor": "#8a8a8a", "grid": false}},
                "fill": {"field": "c", "type": "nominal", "scale": {"domain": ["Pre", "DClamp", "Post"], "range": ["#000000", "#808080", "#ffffff"]}, "legend": null},
                "stroke": {"field": "c", "type": "nominal", "scale": {"domain": ["Pre", "DClamp", "Post"], "range": ["#000000", "#5a5a5a", "#8c8c8c"]}, "legend": null}
              }
            },
            {
              "mark": {"type": "rule", "color": "#808080", "strokeWidth": 1},
              "encoding": {"y": {"field": "v", "type": "quantitative"}, "y2": {"field": "hi"}}
            },
            {
              "mark": {"type": "tick", "color": "#808080", "size": 6, "thickness": 1},
              "encoding": {"y": {"field": "hi", "type": "quantitative"}}
            }
          ]
        },
        {
          "width": 203,
          "height": 170,
          "title": {"text": "Cycle Period", "fontSize": 16, "fontWeight": "normal", "color": "black", "offset": -1},
          "data": {"name": "bars"},
          "transform": [{"filter": "datum.m == 'cycle'"}],
          "encoding": {
            "x": {"field": "c", "type": "nominal", "sort": ["Pre", "DClamp", "Post"], "scale": {"paddingInner": 0.2, "paddingOuter": 0.3, "align": 0.43},
              "axis": {"title": null, "labelAngle": 0, "labelFontSize": 14, "labelFontWeight": "bold", "labelColor": "black", "ticks": false, "labelPadding": 3, "domainColor": "#8a8a8a"}}
          },
          "layer": [
            {
              "mark": {"type": "bar", "strokeWidth": 1},
              "encoding": {
                "y": {"field": "v", "type": "quantitative", "scale": {"domain": [0, 354], "nice": false},
                  "axis": {"values": [50, 100, 150, 200, 250, 300, 350], "tickCount": 10, "title": null, "labelFontSize": 13, "labelFontWeight": "bold", "labelColor": "black", "ticks": true, "tickSize": 3, "tickColor": "#8a8a8a", "labelPadding": 2, "domainColor": "#8a8a8a", "grid": false}},
                "fill": {"field": "c", "type": "nominal", "scale": {"domain": ["Pre", "DClamp", "Post"], "range": ["#000000", "#808080", "#ffffff"]}, "legend": null},
                "stroke": {"field": "c", "type": "nominal", "scale": {"domain": ["Pre", "DClamp", "Post"], "range": ["#000000", "#5a5a5a", "#8c8c8c"]}, "legend": null}
              }
            },
            {
              "mark": {"type": "rule", "color": "#808080", "strokeWidth": 1},
              "encoding": {"y": {"field": "v", "type": "quantitative"}, "y2": {"field": "hi"}}
            },
            {
              "mark": {"type": "tick", "color": "#808080", "size": 6, "thickness": 1},
              "encoding": {"y": {"field": "hi", "type": "quantitative"}}
            }
          ]
        }
      ]
    }
  ]
}
